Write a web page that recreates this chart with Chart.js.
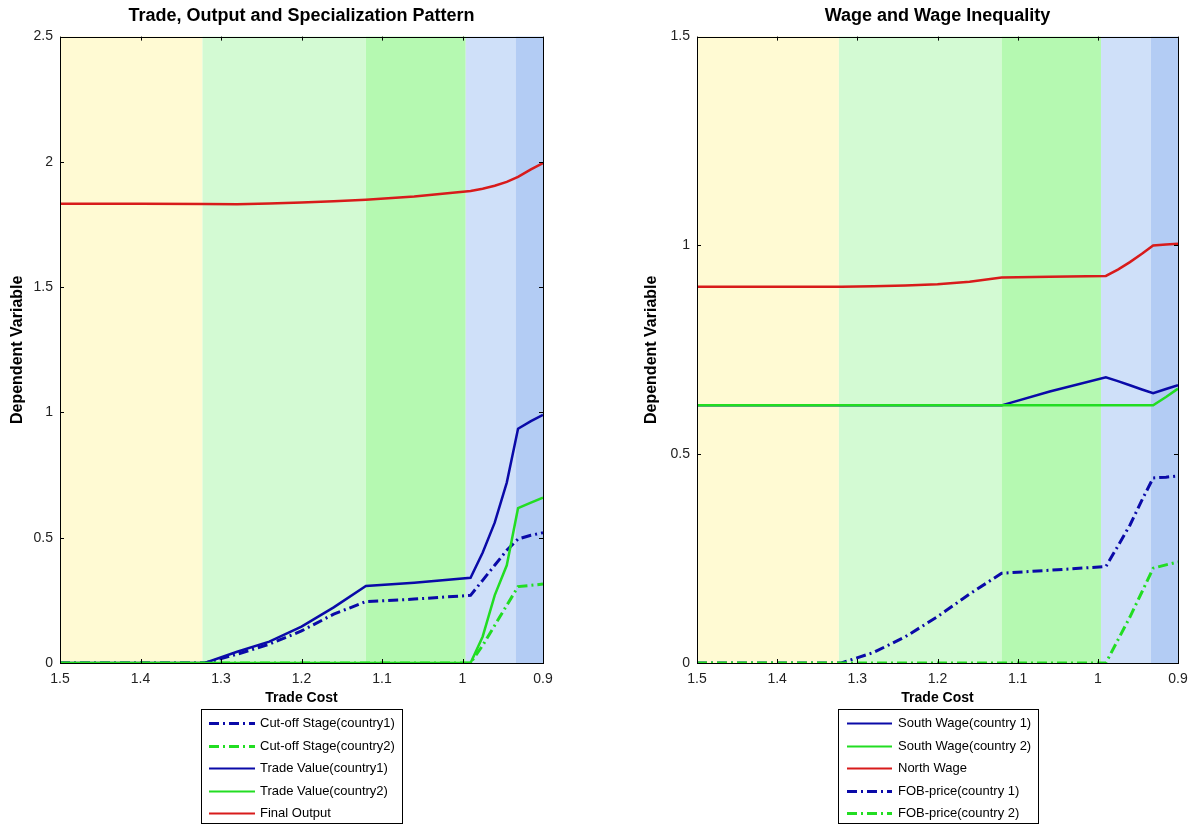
<!DOCTYPE html>
<html>
<head>
<meta charset="utf-8">
<script src="https://cdn.jsdelivr.net/npm/chart.js@4.4.1/dist/chart.umd.min.js"></script>
<style>
  html, body { margin: 0; padding: 0; background: #fff; overflow: hidden; }
  #wrap { position: relative; width: 1193px; height: 825px; }
  .panel { position: absolute; top: 0; }
  #left { left: 0; }
  #right { left: 637px; }
</style>
</head>
<body>
<div id="wrap">
  <div class="panel" id="left"><canvas id="tradeChart" width="596" height="825"></canvas></div>
  <div class="panel" id="right"><canvas id="wageChart" width="556" height="825"></canvas></div>
</div>
<script>
// trade cost grid (x) for both panels
const tradeCost = [1.5, 1.4, 1.32, 1.28, 1.24, 1.2, 1.16, 1.12, 1.06, 0.99, 0.975, 0.96, 0.945, 0.931, 0.915, 0.9];
const xTicks = [1.5, 1.4, 1.3, 1.2, 1.1, 1, 0.9];

// left panel: trade, output and specialization
const cutoff1 = [0, 0, 0, 0.035, 0.075, 0.128, 0.195, 0.245, 0.255, 0.27, 0.33, 0.39, 0.45, 0.495, 0.51, 0.52];
const cutoff2 = [0, 0, 0, 0, 0, 0, 0, 0, 0, 0, 0.07, 0.15, 0.23, 0.305, 0.31, 0.315];
const tradeValue1 = [0, 0, 0, 0.045, 0.085, 0.145, 0.222, 0.307, 0.32, 0.34, 0.44, 0.56, 0.72, 0.935, 0.965, 0.99];
const tradeValue2 = [0, 0, 0, 0, 0, 0, 0, 0, 0, 0, 0.105, 0.27, 0.39, 0.618, 0.64, 0.66];
const finalOutput = [1.833, 1.833, 1.832, 1.831, 1.834, 1.838, 1.843, 1.849, 1.862, 1.884, 1.893, 1.905, 1.92, 1.94, 1.97, 1.995];

// right panel: wage and wage inequality
const southWage1 = [0.617, 0.617, 0.617, 0.617, 0.617, 0.617, 0.617, 0.617, 0.65, 0.684, 0.675, 0.665, 0.655, 0.646, 0.656, 0.665];
const southWage2 = [0.617, 0.617, 0.617, 0.617, 0.617, 0.617, 0.617, 0.617, 0.617, 0.617, 0.617, 0.617, 0.617, 0.617, 0.637, 0.657];
const northWage = [0.901, 0.901, 0.901, 0.902, 0.904, 0.907, 0.913, 0.923, 0.925, 0.927, 0.942, 0.96, 0.98, 1.0, 1.002, 1.004];
const fobPrice1 = [0, 0, 0, 0.025, 0.063, 0.111, 0.165, 0.215, 0.222, 0.231, 0.28, 0.33, 0.39, 0.443, 0.445, 0.448];
const fobPrice2 = [0, 0, 0, 0, 0, 0, 0, 0, 0, 0, 0.055, 0.11, 0.17, 0.227, 0.235, 0.242];

// regime bands along trade cost
const bandEdges = [1.5, 1.323, 1.12, 0.996, 0.934, 0.9];
const bandColors = ["#FFFAD3", "#D3FAD3", "#B5F9B1", "#CFE0F9", "#B3CCF4"];

const FONT = "'Liberation Sans', Arial, sans-serif";
const BLUE = "#0A0AA8";
const GREEN = "#22DD22";
const RED = "#D81B1B";
const DASHDOT = [10, 4, 2, 4];

const bands = {
  id: "bands",
  beforeDatasetsDraw(chart) {
    const { ctx, chartArea: a, scales: { x } } = chart;
    ctx.save();
    for (let i = 0; i < bandColors.length; i++) {
      const x0 = x.getPixelForValue(bandEdges[i]);
      const x1 = x.getPixelForValue(bandEdges[i + 1]);
      ctx.fillStyle = bandColors[i];
      ctx.fillRect(x0, a.top, x1 - x0, a.bottom - a.top);
    }
    ctx.restore();
  },
};

// matlab-like box with inward ticks
const frame = {
  id: "frame",
  afterDatasetsDraw(chart) {
    const { ctx, chartArea: a, scales: { x, y } } = chart;
    ctx.save();
    ctx.strokeStyle = "#000";
    ctx.lineWidth = 1;
    ctx.beginPath();
    x.ticks.forEach((t) => {
      const px = Math.round(x.getPixelForValue(t.value)) + 0.5;
      ctx.moveTo(px, a.bottom); ctx.lineTo(px, a.bottom - 4);
      ctx.moveTo(px, a.top); ctx.lineTo(px, a.top + 4);
    });
    y.ticks.forEach((t) => {
      const py = Math.round(y.getPixelForValue(t.value)) + 0.5;
      ctx.moveTo(a.left, py); ctx.lineTo(a.left + 4, py);
      ctx.moveTo(a.right, py); ctx.lineTo(a.right - 4, py);
    });
    ctx.stroke();
    ctx.strokeRect(Math.round(a.left) + 0.5, Math.round(a.top) + 0.5, Math.round(a.width), Math.round(a.height));
    ctx.restore();
  },
};

const boxLegend = {
  id: "boxLegend",
  afterDraw(chart, args, opts) {
    const { ctx, chartArea: a } = chart;
    const sets = chart.data.datasets;
    ctx.save();
    ctx.font = "13px " + FONT;
    const textW = Math.max(...sets.map((d) => ctx.measureText(d.label).width));
    const w = Math.round(opts.textLeft + textW + 7);
    const left = Math.round((a.left + a.right) / 2 - w / 2);
    const top = Math.round(a.bottom + 46);
    ctx.fillStyle = "#fff";
    ctx.fillRect(left, top, w, 114);
    ctx.strokeStyle = "#000";
    ctx.lineWidth = 1;
    ctx.strokeRect(left + 0.5, top + 0.5, w, 114);
    sets.forEach((d, i) => {
      const yy = Math.round(top + 14 + i * 22.5) + 0.5;
      ctx.beginPath();
      ctx.setLineDash(d.borderDash || []);
      ctx.strokeStyle = d.borderColor;
      ctx.lineWidth = d.borderDash ? 3 : 2;
      ctx.moveTo(left + opts.lineStart, yy);
      ctx.lineTo(left + opts.lineEnd, yy);
      ctx.stroke();
      ctx.setLineDash([]);
      ctx.fillStyle = "#000";
      ctx.textBaseline = "middle";
      ctx.textAlign = "left";
      ctx.fillText(d.label, left + opts.textLeft, yy);
    });
    ctx.restore();
  },
};

function series(label, values, color, dashed, i, n) {
  return {
    label: label,
    data: values.map((v, k) => ({ x: tradeCost[k], y: v })),
    borderColor: color,
    backgroundColor: color,
    borderWidth: dashed ? 3 : 2.5,
    borderDash: dashed ? DASHDOT : undefined,
    pointRadius: 0,
    tension: 0,
    fill: false,
    order: n - i, // later series on top, like matlab
  };
}

const tickText = (v) => String(Math.round(v * 10) / 10);

function makeOptions(title, yMax, padRight, yTitlePad, legendOpts) {
  return {
    responsive: false,
    animation: false,
    events: [],
    layout: { padding: { left: 0, right: padRight, top: 0, bottom: 112 } },
    plugins: {
      legend: { display: false },
      tooltip: { enabled: false },
      title: {
        display: true,
        text: title,
        fullSize: false,
        color: "#000",
        font: { family: FONT, size: 18, weight: "bold" },
        padding: { top: 5, bottom: 10 },
      },
      boxLegend: legendOpts,
    },
    scales: {
      x: {
        type: "linear",
        reverse: true,
        min: 0.9,
        max: 1.5,
        afterFit: (s) => { s.height = 50; s.paddingLeft = 0; s.paddingRight = 0; },
        afterBuildTicks: (s) => { s.ticks = xTicks.map((v) => ({ value: v })); },
        ticks: { padding: 8, color: "#222", font: { family: FONT, size: 14 }, callback: tickText },
        grid: { display: false, drawTicks: false },
        border: { display: false },
        title: {
          display: true,
          text: "Trade Cost",
          color: "#000",
          font: { family: FONT, size: 14, weight: "bold" },
          padding: { top: 0, bottom: 6 },
        },
      },
      y: {
        min: 0,
        max: yMax,
        afterFit: (s) => { s.width = 60; s.paddingTop = 0; s.paddingBottom = 0; },
        ticks: { stepSize: 0.5, padding: 7, color: "#222", font: { family: FONT, size: 14 }, callback: tickText },
        grid: { display: false, drawTicks: false },
        border: { display: false },
        title: {
          display: true,
          text: "Dependent Variable",
          color: "#000",
          font: { family: FONT, size: 16, weight: "bold" },
          padding: { top: yTitlePad, bottom: 0 },
        },
      },
    },
  };
}

new Chart("tradeChart", {
  type: "line",
  plugins: [bands, frame, boxLegend],
  data: {
    datasets: [
      series("Cut-off Stage(country1)", cutoff1, BLUE, true, 0, 5),
      series("Cut-off Stage(country2)", cutoff2, GREEN, true, 1, 5),
      series("Trade Value(country1)", tradeValue1, BLUE, false, 2, 5),
      series("Trade Value(country2)", tradeValue2, GREEN, false, 3, 5),
      series("Final Output", finalOutput, RED, false, 4, 5),
    ],
  },
  options: makeOptions("Trade, Output and Specialization Pattern", 2.5, 53, 8,
    { lineStart: 8, lineEnd: 54, textLeft: 59 }),
});

new Chart("wageChart", {
  type: "line",
  plugins: [bands, frame, boxLegend],
  data: {
    datasets: [
      series("South Wage(country 1)", southWage1, BLUE, false, 0, 5),
      series("South Wage(country 2)", southWage2, GREEN, false, 1, 5),
      series("North Wage", northWage, RED, false, 2, 5),
      series("FOB-price(country 1)", fobPrice1, BLUE, true, 3, 5),
      series("FOB-price(country 2)", fobPrice2, GREEN, true, 4, 5),
    ],
  },
  options: makeOptions("Wage and Wage Inequality", 1.5, 15, 5,
    { lineStart: 9, lineEnd: 54, textLeft: 60 }),
});
</script>
</body>
</html>
